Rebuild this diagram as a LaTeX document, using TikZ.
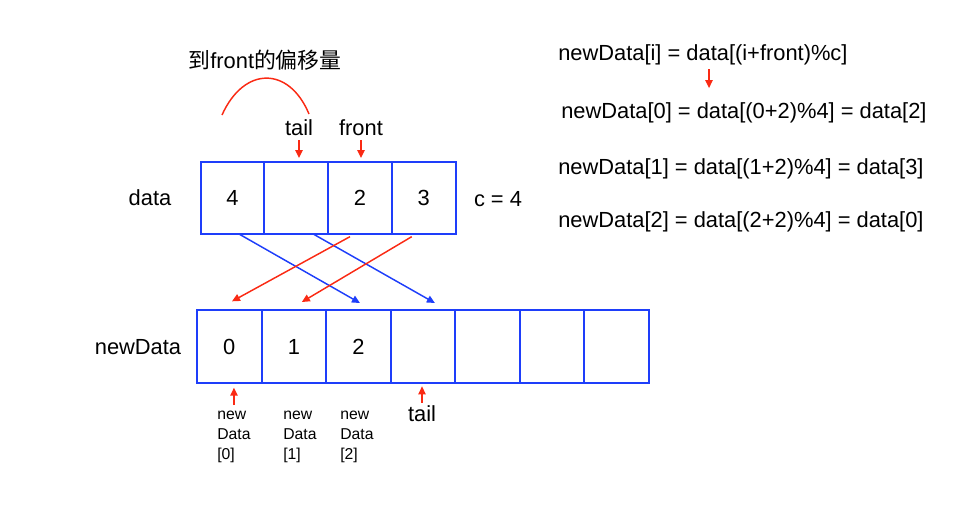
\documentclass[tikz,border=0pt]{standalone}
\usepackage{fontspec}
\setmainfont{Liberation Sans}
\newfontfamily\cjk{Noto Sans CJK SC}
\usetikzlibrary{arrows.meta,calc,positioning}
\definecolor{CellClr}{RGB}{30,62,250}
\definecolor{PtrClr}{RGB}{250,42,20}

\begin{document}
\begin{tikzpicture}[x=0.75pt,y=-0.75pt,
  txt/.style={font=\fontsize{16.4}{19}\selectfont,inner sep=0pt},
  small/.style={font=\fontsize{11.8}{15}\selectfont,inner sep=0pt,align=left,anchor=north west},
  cell/.style={draw=CellClr,line width=1.5pt,outer sep=0pt,inner sep=0pt,
    minimum height=54pt,minimum width=47.8pt,txt},
  wide/.style={cell,minimum height=54.75pt,minimum width=48.4pt},
  ptr/.style={draw=PtrClr,line width=1.1pt,-{Triangle[length=6pt,width=5.5pt]}},
  move/.style={draw=CellClr,line width=1.1pt,-{Triangle[length=6pt,width=5.5pt]}}]
\useasboundingbox (0,0) rectangle (962,511);

\node[cell] (d0) at (232.5,198) {4};
\node[cell,right=0pt of d0] (d1) {};
\node[cell,right=0pt of d1] (d2) {2};
\node[cell,right=0pt of d2] (d3) {3};

\node[wide] (n0) at (229.3,346.5) {0};
\node[wide,right=0pt of n0] (n1) {1};
\node[wide,right=0pt of n1] (n2) {2};
\node[wide,right=0pt of n2] (n3) {};
\node[wide,right=0pt of n3] (n4) {};
\node[wide,right=0pt of n4] (n5) {};
\node[wide,right=0pt of n5] (n6) {};

\node[txt] (data) at (150,198) {data};
\node[txt] (newdata) at (138,347) {newData};
\node[txt] (cap) at (498,199) {c = 4};
\node[txt] (offset) at (265,60) {{\cjk 到}front{\cjk 的偏移量}};
\node[txt] (tailtop) at (299,128) {tail};
\node[txt] (fronttop) at (361,128) {front};
\node[txt] (tailbot) at (422,414) {tail};

\node[small] (l0) at (217,411) {new\\Data\\{[0]}};
\node[small] (l1) at (283,411) {new\\Data\\{[1]}};
\node[small] (l2) at (340,411) {new\\Data\\{[2]}};

\node[txt,anchor=west] (f0) at (558,55) {newData[i] = data[(i+front)\%c]};
\node[txt,anchor=west] (f1) at (561,113) {newData[0] = data[(0+2)\%4] = data[2]};
\node[txt,anchor=west] (f2) at (558,169) {newData[1] = data[(1+2)\%4] = data[3]};
\node[txt,anchor=west] (f3) at (558,222) {newData[2] = data[(2+2)\%4] = data[0]};

\coordinate (arcl) at (222,115);
\coordinate (arcr) at (309,114);
\draw[PtrClr,line width=1.1pt] (arcl) .. controls (244,66) and (289,66) .. (arcr);

\draw[ptr] ([yshift=-3pt]tailtop.south) -- ([yshift=3pt]tailtop.south |- d1.north);
\draw[ptr] ([yshift=-3pt]fronttop.south) -- ([yshift=3pt]fronttop.south |- d2.north);
\draw[ptr] ([xshift=113.25pt,yshift=-3pt]f0.south west) -- ([xshift=113.25pt,yshift=-17pt]f0.south west);
\draw[ptr] ([xshift=3.5pt,yshift=-16.5pt]n0.south) -- ([xshift=3.5pt,yshift=-3.5pt]n0.south);
\draw[ptr] ([yshift=2.25pt]tailbot.north) -- ([yshift=-2.5pt]tailbot.north |- n3.south);

\draw[move] ([xshift=4.9pt]d0.south) -- ([xshift=1.2pt,yshift=5.25pt]n2.north);
\draw[move] ([xshift=12.75pt]d1.south) -- ([xshift=9pt,yshift=5.25pt]n3.north);
\draw[ptr] ([xshift=-7.5pt,yshift=-2pt]d2.south) -- ([xshift=2pt,yshift=6.5pt]n0.north);
\draw[ptr] ([xshift=-9pt,yshift=-2pt]d3.south) -- ([xshift=6pt,yshift=6pt]n1.north);
\end{tikzpicture}
\end{document}
